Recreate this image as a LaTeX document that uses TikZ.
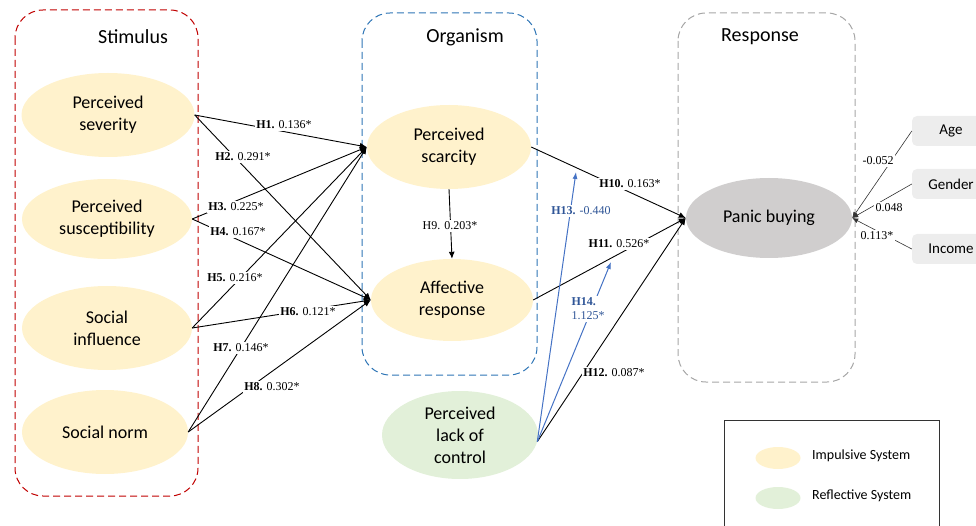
\documentclass[tikz,border=0pt]{standalone}
\usepackage{fontspec}
\setmainfont{Carlito}
\newfontfamily\hfont{Liberation Serif}
\usetikzlibrary{shapes.geometric,arrows.meta,calc}

\definecolor{impulse}{HTML}{FFF2CC}
\definecolor{reflect}{HTML}{E2F0D9}
\definecolor{outcome}{HTML}{D0CECE}
\definecolor{ctrlfill}{HTML}{EDEDED}
\definecolor{stimred}{HTML}{C00000}
\definecolor{orgblue}{HTML}{2E75B6}
\definecolor{resgray}{HTML}{A6A6A6}
\definecolor{modblue}{HTML}{4472C4}
\definecolor{modtext}{HTML}{2F5597}

\begin{document}
\begin{tikzpicture}[x=1pt,y=-1pt,
    var/.style={ellipse, inner sep=0pt, align=center, font=\fontsize{18}{22}\selectfont},
    stage/.style={line width=1pt, dash pattern=on 7pt off 4pt, rounded corners=28pt},
    title/.style={font=\fontsize{20}{22}\selectfont},
    path/.style={line width=0.9pt, -{Latex[length=7pt,width=6pt]}},
    mod/.style={line width=1pt, draw=modblue, -{Latex[length=7pt,width=5pt]}},
    ctrl/.style={rounded corners=5pt, fill=ctrlfill, minimum width=78pt, minimum height=30pt, font=\fontsize{15}{18}\selectfont},
    hlbl/.style={fill=white, inner sep=1.5pt, font=\hfont\fontsize{12}{14}\selectfont}]
  \path[use as bounding box, clip] (0,0) rectangle (976,526);

  % stage boxes
  \draw[stage, stimred] (15,10) rectangle (198,496);
  \draw[stage, orgblue] (362,13) rectangle (537,375);
  \draw[stage, resgray] (678,13) rectangle (855,382);
  \node[title] (tstim) at (133,37) {Stimulus};
  \node[title] (torg) at (465,37) {Organism};
  \node[title] (tres) at (760,37) {Response};

  % constructs
  \node[var, fill=impulse, minimum width=173pt, minimum height=84pt] (sev) at (108,115) {Perceived\\severity};
  \node[var, fill=impulse, minimum width=170pt, minimum height=80pt] (sus) at (107,219) {Perceived\\susceptibility};
  \node[var, fill=impulse, minimum width=170pt, minimum height=84pt] (infl) at (107,328) {Social\\influence};
  \node[var, fill=impulse, minimum width=166pt, minimum height=84pt] (norm) at (105,432) {Social norm};
  \node[var, fill=impulse, minimum width=164pt, minimum height=84pt] (scar) at (449,147) {Perceived\\scarcity};
  \node[var, fill=impulse, minimum width=162pt, minimum height=82pt] (aff) at (452,300) {Affective\\response};
  \node[var, fill=outcome, minimum width=166pt, minimum height=80pt] (panic) at (769,218) {Panic buying};
  \node[var, fill=reflect, minimum width=156pt, minimum height=88pt] (ctl) at (460,435) {Perceived\\lack of\\control};

  % controls
  \node[ctrl] (age) at (951,131) {Age};
  \node[ctrl] (gender) at (951,184) {Gender};
  \node[ctrl] (income) at (951,249) {Income};

  \coordinate (m10) at (576,172);
  \coordinate (m11) at (611,262);

  % paths
  \foreach \s/\t in {sev/scar, sev/aff, sus/scar, sus/aff, infl/scar, infl/aff, norm/scar, norm/aff}
    {\draw[path] (\s.east) -- (\t.west);}
  \draw[path] (scar.south) -- (aff.north);
  \draw[path] (scar.east) -- (panic.west);
  \draw[path] (aff.east) -- (panic.west);
  \draw[path] (ctl.-5) -- (panic.west);
  \draw[mod] (ctl.-5) -- (m10);
  \draw[mod] (ctl.-5) -- (m11);
  \foreach \c in {age, gender, income}
    {\draw[line width=0.6pt, draw=black!80, -{Latex[length=6pt,width=5pt]}] (\c.west) -- (panic.east);}

  % coefficients
  \foreach \x/\y/\h/\v/\n in {284/125/H1./0.136*/l1, 243/157/H2./0.291*/l2, 236/207/H3./0.225*/l3,
      238/232/H4./0.167*/l4, 235/278/H5./0.216*/l5, 308/312/H6./0.121*/l6, 241/348/H7./0.146*/l7,
      272/387/H8./0.302*/l8, 630/184/H10./0.163*/l10, 619/244/H11./0.526*/l11, 614/373/H12./0.087*/l12}
    {\node[hlbl] (\n) at (\x,\y) {\textbf{\h} \v};}
  \node[hlbl] (l9) at (450,226) {H9. 0.203*};
  \node[hlbl, text=modtext] (l13) at (581,211) {\textbf{H13.} -0.440};
  \node[hlbl, text=modtext, align=left] (l14) at (588,309) {\textbf{H14.}\\1.125*};
  \foreach \x/\y/\v/\n in {878/161/-0.052/ca, 889/208/0.048/cg, 877/236/0.113*/ci}
    {\node[hlbl] (\n) at (\x,\y) {\v};}

  % legend
  \draw[line width=0.8pt, draw=black!80] (724,420) rectangle (939,540);
  \node[ellipse, fill=impulse, minimum width=45pt, minimum height=22pt] (legimp) at (778,458) {};
  \node[ellipse, fill=reflect, minimum width=45pt, minimum height=22pt] (legref) at (778,498) {};
  \node[anchor=west, font=\fontsize{14}{16}\selectfont, inner sep=0pt] (timp) at (812,456) {Impulsive System};
  \node[anchor=west, font=\fontsize{14}{16}\selectfont, inner sep=0pt] (tref) at (812,496) {Reflective System};
\end{tikzpicture}
\end{document}
